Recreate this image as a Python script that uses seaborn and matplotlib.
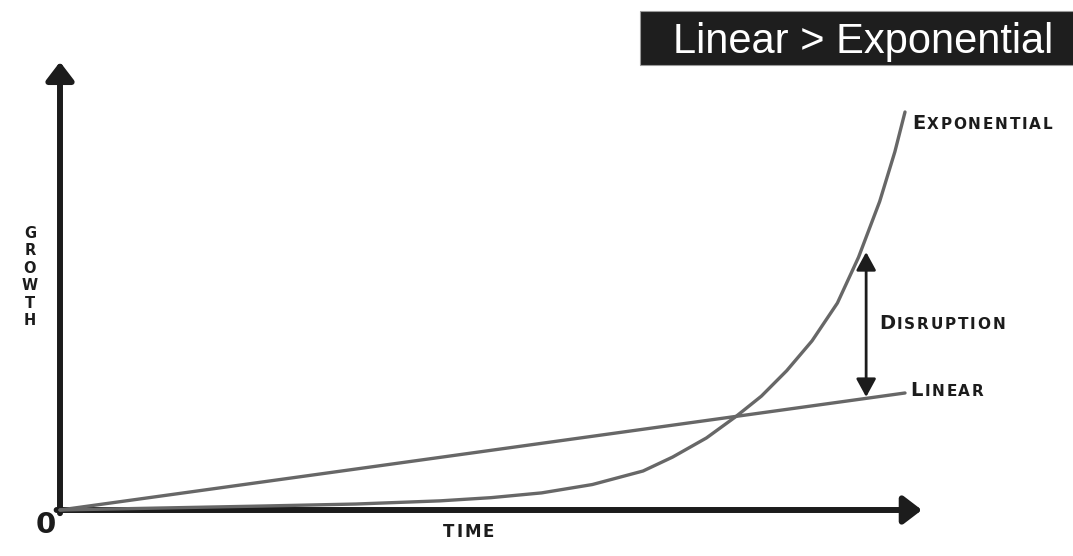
import numpy as np
import pandas as pd
import matplotlib
matplotlib.use('Agg')
import matplotlib.pyplot as plt
from matplotlib.patches import Rectangle
import seaborn as sns

# values (time 0-10, growth 0-100)
time_linear = [0, 10]
growth_linear = [0, 29.4]

time_exp = [0, 1.2, 2.4, 3.5, 4.5, 5.1, 5.7, 6.3, 6.9, 7.25, 7.65, 8.0, 8.3, 8.6, 8.9, 9.2, 9.45, 9.7, 9.88, 10]
growth_exp = [0, 0.5, 1.0, 1.5, 2.3, 3.1, 4.3, 6.4, 9.8, 13.3, 18.1, 23.5, 28.6, 35, 42.5, 52, 63.5, 77.5, 90, 100]

disruption_time = 9.54
disruption_low = 28.4
disruption_high = 64.8

series_labels = ['Linear', 'Exponential']
title_text = 'Linear > Exponential'
x_label = 'TIME'
y_label = 'GROWTH'
origin_label = '0'

line_gray = '#676767'
ink = '#1c1c1c'

df = pd.concat([
    pd.DataFrame({'time': time_linear, 'growth': growth_linear, 'series': series_labels[0]}),
    pd.DataFrame({'time': time_exp, 'growth': growth_exp, 'series': series_labels[1]}),
])

sns.set_style('white')
plt.rcParams['font.family'] = ['DejaVu Sans']

W, H = 1073, 556
fig = plt.figure(figsize=(W / 100, H / 100), dpi=100)
ax = fig.add_axes([60 / W, 46 / H, 845 / W, 398 / H])
ax.set_xlim(0, 10)
ax.set_ylim(0, 100)
ax.axis('off')

# axis arrows
arrow_kw = dict(arrowstyle='-|>,head_length=0.55,head_width=0.42', lw=4.3, color=ink,
                shrinkA=0, shrinkB=0, mutation_scale=20)
ax.annotate('', xy=(10.2, 0), xytext=(-0.04, 0), arrowprops=arrow_kw, annotation_clip=False, zorder=1)
ax.annotate('', xy=(0, 112.6), xytext=(0, -0.8), arrowprops=arrow_kw, annotation_clip=False, zorder=1)

sns.lineplot(data=df, x='time', y='growth', hue='series', palette=[line_gray, line_gray],
             linewidth=2.4, legend=False, sort=False, ax=ax, zorder=3)
for ln in ax.lines:
    ln.set_clip_on(False)
    ln.set_solid_joinstyle('round')

# disruption arrow
ax.annotate('', xy=(disruption_time, disruption_high), xytext=(disruption_time, disruption_low),
            arrowprops=dict(arrowstyle='<|-|>,head_length=0.55,head_width=0.3', lw=2, color=ink,
                            shrinkA=0, shrinkB=0, mutation_scale=20), zorder=4)


def track_on(prev, rest, size, track, dy=0.0):
    # draw the remaining letters one by one after `prev`, with extra spacing
    for i, ch in enumerate(rest):
        prev = ax.annotate(ch, xy=(1, 0), xycoords=prev, xytext=(track, dy if i == 0 else 0),
                           textcoords='offset points', fontsize=size, fontweight='bold',
                           color=ink, ha='left', va='bottom')
    return prev


def small_caps(x, y, word, big=14, small=11, track=1.3):
    t = ax.text(x, y, word[0], fontsize=big, fontweight='bold', color=ink,
                ha='left', va='baseline', clip_on=False)
    track_on(t, word[1:], small, track, dy=0.7)


small_caps(10.08, 95.7, 'EXPONENTIAL')
small_caps(9.69, 45.5, 'DISRUPTION')
small_caps(10.06, 28.6, 'LINEAR')

# axis labels
fig.text(30 / W, 1 - 277 / H, '\n'.join(y_label), fontsize=10.5, fontweight='bold', color=ink,
         ha='center', va='center', multialignment='center', linespacing=1.2)
t0 = fig.text(443 / W, 1 - 537 / H, x_label[0], fontsize=12, fontweight='bold', color=ink,
              ha='left', va='baseline')
track_on(t0, x_label[1:], 12, 1.3)
fig.text(46 / W, 1 - 525 / H, origin_label, fontsize=21, fontweight='bold', color=ink,
         ha='center', va='center')

# title box
fig.patches.append(Rectangle((640 / W, 1 - 65 / H), 440 / W, 54 / H, transform=fig.transFigure,
                             facecolor='#1e1e1e', edgecolor='#9a9a9a', linewidth=0.8, zorder=0))
fig.text(673 / W, 1 - 53 / H, title_text, fontsize=30, color='white', family='Liberation Sans',
         ha='left', va='baseline')

fig.savefig('out.png', dpi=100, facecolor='white')
